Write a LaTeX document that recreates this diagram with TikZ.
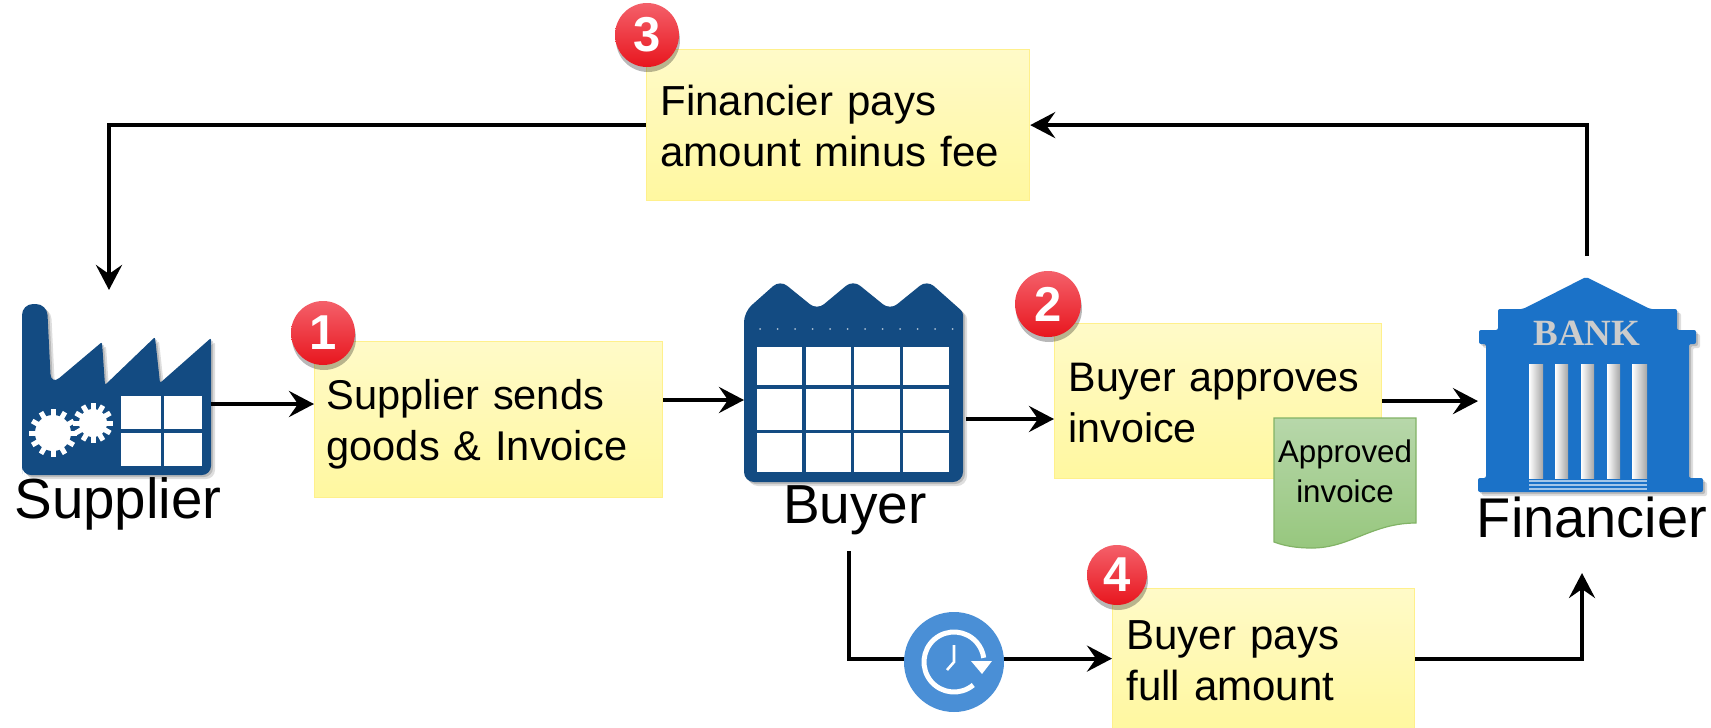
\documentclass[tikz,border=0pt]{standalone}
\usepackage{fontspec}
\setmainfont{Liberation Sans}
\newfontfamily\bankfont{Liberation Serif}
\usetikzlibrary{arrows.meta,shadows,calc}
\definecolor{navyicon}{HTML}{134B82}
\definecolor{bankblue}{HTML}{1B72C8}
\definecolor{clockblue}{HTML}{4A8FD6}
\definecolor{noteedge}{HTML}{FFF08C}
\definecolor{notetop}{HTML}{FFFAC8}
\definecolor{notebot}{HTML}{FFF8A0}
\definecolor{docedge}{HTML}{82B366}
\definecolor{doctop}{HTML}{B7D7AA}
\definecolor{docbot}{HTML}{97C77E}
\definecolor{ballhi}{HTML}{F4606A}
\definecolor{ballmid}{HTML}{F92A30}
\definecolor{balllo}{HTML}{E8161E}
\tikzset{
  flow/.style={line width=4pt,-{Stealth[length=25pt,width=26pt,inset=9pt]}},
  notebox/.style={draw=noteedge,line width=1.2pt,top color=notetop,bottom color=notebot,anchor=north west,
    align=left,inner xsep=14pt,inner ysep=0pt,font=\fontsize{42}{51}\selectfont},
  badge/.style={circle,minimum size=#1,inner sep=0pt,top color=ballhi,middle color=ballmid,bottom color=balllo,
    text=white,font=\fontsize{49}{49}\selectfont\bfseries,
    drop shadow={shadow xshift=1pt,shadow yshift=-5pt,opacity=.28,fill=black}},
  iconbox/.style={rectangle,inner sep=0pt,anchor=north west},
  iconlabel/.style={anchor=base,inner sep=0pt,font=\fontsize{55}{55}\selectfont},
  softa/.style={fill=black,opacity=.13,shift={(4,4)}},
  softb/.style={fill=black,opacity=.16,shift={(2,2)}},
  pane/.style={fill=white},
  column/.style={left color=white,middle color=white,right color=black!35},
}
\newcommand{\factorypath}{(22,465) [rounded corners=11pt] -- (22,304) -- (47,304) -- (51,385) [rounded corners=2pt]
  -- (102,342) -- (105,385) -- (155,337) -- (160,383) -- (211,338) [rounded corners=9pt] -- (211,475) -- (22,475) -- cycle}
\newcommand{\buyerpath}{(744,312) [rounded corners=9pt] -- (780,280) -- (817,310) -- (853,280) -- (890,310) -- (927,280) [rounded corners=3pt] -- (963,312)
  [rounded corners=10pt] -- (963,482) -- (744,482) -- cycle}
\newcommand{\bankpath}{[rounded corners=2pt] (1586,277) -- (1650,309) -- (1677,309) -- (1677,330) -- (1696,330) -- (1696,344) -- (1689,344)
  -- (1689,478) -- (1703,478) -- (1703,492) -- (1478,492) -- (1478,478) -- (1486,478) -- (1486,344) -- (1479,344)
  -- (1479,330) -- (1498,330) -- (1498,309) -- (1523,309) -- cycle}
\newcommand{\gearat}[4]{%
  \fill[white] (#1,#2) circle (#3);
  \foreach \a in {0,#4,...,359} \draw[white,line width=5pt] (#1,#2) ++(\a:#3-2) -- ++(\a:8);
}
\begin{document}
\begin{tikzpicture}[x=1pt,y=-1pt]
\useasboundingbox (0,0) rectangle (1711,728);
\fill[white] (0,0) rectangle (1711,728);

% ---------- icons
\fill[softa] \factorypath;
\fill[softb] \factorypath;
\fill[navyicon] \factorypath;
\foreach \x/\w in {121/40,164/38} \foreach \y/\h in {396/33,433/33}
  \fill[pane] (\x,\y) rectangle ++(\w,\h);
\gearat{53}{433}{18}{30}
\gearat{93}{423}{14}{30}

\fill[softa] \buyerpath;
\fill[softb] \buyerpath;
\fill[navyicon] \buyerpath;
\foreach \x/\w in {757/45,806/45,854/46,903/46} \foreach \y/\h in {347/38,389/41,433/39}
  \fill[pane] (\x,\y) rectangle ++(\w,\h);
\foreach \i in {0,...,11} \fill[white!65!navyicon] (760+17.5*\i,329) circle (1);

\fill[softa] \bankpath;
\fill[softb] \bankpath;
\fill[bankblue] \bankpath;
\foreach \x/\w in {1529/14,1555/13,1581/13,1607/13,1632/15}
  \path[column] (\x,364) rectangle ++(\w,114);
\foreach \y in {481,485,489} \draw[white!60!bankblue,line width=1.3pt] (1529,\y) -- (1647,\y);

\node[iconbox,minimum width=189pt,minimum height=171pt] (supplier) at (22,304) {};
\node[iconbox,minimum width=219pt,minimum height=196pt] (buyer) at (744,286) {};
\node[iconbox,minimum width=225pt,minimum height=215pt] (bank) at (1478,277) {};
\node[anchor=base,inner sep=0pt,text=black!20,font=\bankfont\bfseries\fontsize{37}{37}\selectfont] (banktext) at (1587,345) {BANK};

\node[iconlabel,font=\fontsize{56.5}{56}\selectfont] (supplierlabel) at (118,518) {Supplier};
\node[iconlabel] (buyerlabel) at (855,523) {Buyer};
\node[iconlabel,font=\fontsize{56}{56}\selectfont] (bankerlabel) at (1592,537) {Financier};

% ---------- notes
\node[notebox,inner xsep=12pt,text width=324pt,minimum height=156pt,font=\fontsize{41.6}{51}\selectfont] (note1) at (314,341) {\rule{0pt}{39pt}Supplier sends\\goods \& Invoice};
\node[notebox,text width=299pt,minimum height=155pt,font=\fontsize{41.2}{51}\selectfont] (note2) at (1054,323) {\rule{0pt}{33pt}Buyer approves\\invoice};
\node[notebox,text width=355pt,minimum height=151pt] (note3) at (646,49) {\rule{0pt}{33pt}Financier pays\\amount minus fee};
\node[notebox,text width=274pt,minimum height=140pt] (note4) at (1112,588) {\rule{0pt}{33pt}Buyer pays\\full amount};

% ---------- approved invoice
\path[draw=docedge,line width=1.2pt,top color=doctop,bottom color=docbot]
  (1274,418) -- (1416,418) -- (1416,523) .. controls (1372,523) and (1350,548) .. (1312,548)
  .. controls (1296,548) and (1285,546) .. (1274,542) -- cycle;
\node[inner sep=0pt,align=center,font=\fontsize{31.3}{40}\selectfont] (invoice) at (1345,471) {Approved\\invoice};

% ---------- clock
\node[circle,minimum size=100pt,inner sep=0pt] (clock) at (954,662) {};

% ---------- anchors of free ends
\coordinate (banktop) at (1587,256);
\coordinate (suppliertop) at (109,290);
\coordinate (buyerfoot) at (849,551);
\coordinate (bankfoot) at (1582,573);

% ---------- connectors
\draw[flow] (supplier.east |- 0,404) -- (note1.west |- 0,404);
\draw[flow] (note1.east |- 0,400) -- (buyer.west |- 0,400);
\draw[flow] ([xshift=3pt]buyer.east |- 0,419) -- (note2.west |- 0,419);
\draw[flow] (note2.east) -- (bank.west |- note2.east);
\draw[flow] (banktop) |- (note3.east);
\draw[flow] (note3.west) -| (suppliertop);
\draw[line width=4pt] (buyerfoot) |- (clock.center |- note4.west);
\draw[flow] (clock.center |- note4.west) -- (note4.west);
\draw[flow] (note4.east) -| (bankfoot);

\fill[clockblue] (clock.center) circle (50);
\draw[white,line width=5pt] (clock.center) ++(50:30) arc[start angle=50,end angle=352,radius=30];
\fill[white] (971,661) -- (992,661) -- (982,674) -- cycle;
\draw[white,line width=2.6pt] (954,645) -- (clock.center) -- (947,670);

% ---------- badges
\node[badge=64pt] (one) at (323,333) {1};
\node[badge=66pt] (two) at (1048,304) {2};
\node[badge=64pt] (three) at (647,35) {3};
\node[badge=60pt] (four) at (1117,575) {4};
\end{tikzpicture}
\end{document}
